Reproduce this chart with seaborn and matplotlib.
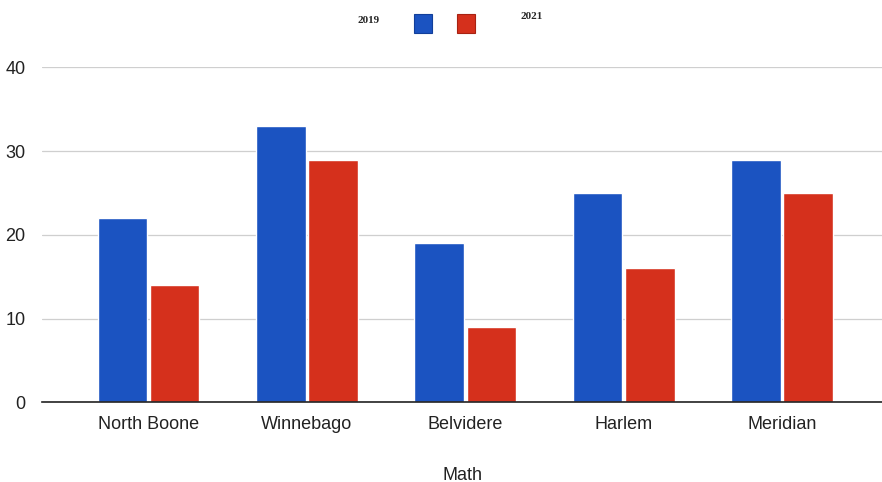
import numpy as np
import pandas as pd
import matplotlib
matplotlib.use('Agg')
import matplotlib.pyplot as plt
from matplotlib.patches import Rectangle
import seaborn as sns

schools = ['North Boone', 'Winnebago', 'Belvidere', 'Harlem', 'Meridian']
math_2019 = [22, 33, 19, 25, 29]
math_2021 = [14, 29, 9, 16, 25]
years = ['2019', '2021']
colors = ['#1b53c1', '#d5301c']

df = pd.DataFrame({'school': schools * 2,
                   'year': [years[0]] * 5 + [years[1]] * 5,
                   'score': math_2019 + math_2021})

sns.set_style('white')
plt.rcParams['font.family'] = ['Liberation Sans', 'DejaVu Sans']

fig = plt.figure(figsize=(8.82, 4.82), dpi=100)
ax = fig.add_axes([0.048, 0.165, 0.952, 0.695])

sns.barplot(data=df, x='school', y='score', hue='year', palette=colors,
            width=0.66, gap=0.05, saturation=1, legend=False, ax=ax)

ax.set_ylim(0, 40)
ax.set_xlim(-0.67, 4.63)
ax.set_yticks([0, 10, 20, 30, 40])
ax.yaxis.grid(True, color='#cfcfcf', lw=0.9)
ax.set_axisbelow(True)
for s in ['top', 'right', 'left']:
    ax.spines[s].set_visible(False)
ax.spines['bottom'].set_color('#222222')
ax.spines['bottom'].set_linewidth(1.2)
ax.tick_params(axis='both', length=0, colors='#222222')
ax.tick_params(axis='x', pad=10, labelsize=13)
ax.tick_params(axis='y', pad=12, labelsize=13)
ax.set_xlabel('Math', fontsize=13, labelpad=24, color='#222222')
ax.set_ylabel('')

# legend at top: "2019  [blue] [red]  2021"
fig.text(0.405, 0.958, years[0], fontsize=8, fontweight='bold',
         family=['Liberation Serif', 'DejaVu Serif'], va='center')
fig.text(0.59, 0.965, years[1], fontsize=8, fontweight='bold',
         family=['Liberation Serif', 'DejaVu Serif'], va='center')
fig.patches.append(Rectangle((0.469, 0.932), 0.021, 0.038, transform=fig.transFigure,
                             facecolor=colors[0], edgecolor='#123f9a', lw=0.8))
fig.patches.append(Rectangle((0.518, 0.932), 0.021, 0.038, transform=fig.transFigure,
                             facecolor=colors[1], edgecolor='#a82212', lw=0.8))

fig.savefig('out.png', dpi=100)
